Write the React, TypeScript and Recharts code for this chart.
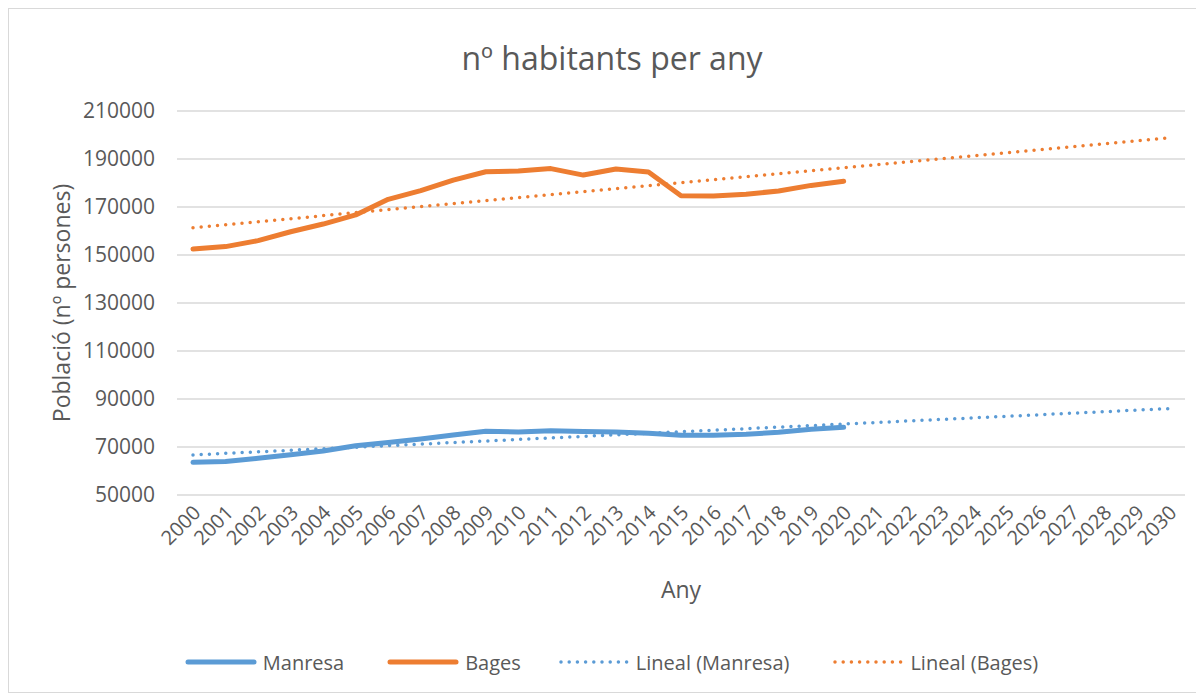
import React from 'react';
import { LineChart, Line, XAxis, YAxis, CartesianGrid, Legend } from 'recharts';

// ─── Data ────────────────────────────────────────────────────────────────────

const YEARS = [
  '2000', '2001', '2002', '2003', '2004', '2005', '2006', '2007', '2008', '2009',
  '2010', '2011', '2012', '2013', '2014', '2015', '2016', '2017', '2018', '2019',
  '2020', '2021', '2022', '2023', '2024', '2025', '2026', '2027', '2028', '2029', '2030',
];

// 2000 – 2020
const MANRESA = [
  63600, 64000, 65300, 66800, 68300, 70500, 71900, 73300, 75000, 76600,
  76300, 76800, 76500, 76200, 75700, 74900, 74900, 75300, 76100, 77400, 78200,
];
const BAGES = [
  152500, 153500, 156000, 159700, 162900, 166700, 173200, 176800, 181200, 184700,
  185000, 186000, 183300, 185800, 184600, 174700, 174600, 175300, 176700, 179000, 180700,
];

// trend lines: value at 2000 and at 2030
const TREND_MANRESA = [66700, 86000];
const TREND_BAGES = [161400, 198800];

const Y_TICKS = [50000, 70000, 90000, 110000, 130000, 150000, 170000, 190000, 210000];

// ─── Style ───────────────────────────────────────────────────────────────────

const C = {
  manresa: '#5B9BD5',
  bages:   '#ED7D31',
  grid:    '#d9d9d9',
  text:    '#595959',
};
const FONT = "'Open Sans', sans-serif";

const last = YEARS.length - 1;
const data = YEARS.map((year, i) => ({
  year,
  manresa: i < MANRESA.length ? MANRESA[i] : null,
  bages: i < BAGES.length ? BAGES[i] : null,
  trendManresa: i === 0 ? TREND_MANRESA[0] : i === last ? TREND_MANRESA[1] : null,
  trendBages: i === 0 ? TREND_BAGES[0] : i === last ? TREND_BAGES[1] : null,
}));

const LEGEND = [
  { label: 'Manresa',          color: C.manresa, dotted: false },
  { label: 'Bages',            color: C.bages,   dotted: false },
  { label: 'Lineal (Manresa)', color: C.manresa, dotted: true },
  { label: 'Lineal (Bages)',   color: C.bages,   dotted: true },
];

// ─── Pieces ──────────────────────────────────────────────────────────────────

const XTick = ({ x, y, payload }: any) => {
  const ax = x + 4;
  const ay = y + 14;
  return (
    <text x={ax} y={ay} dy="0.35em" textAnchor="end" fill={C.text} fontSize={20}
      transform={`rotate(-45, ${ax}, ${ay})`}>
      {payload.value}
    </text>
  );
};

const YTick = ({ x, y, payload }: any) => (
  <text x={x} y={y} dy="0.35em" textAnchor="end" fill={C.text} fontSize={21}>
    {payload.value}
  </text>
);

const XTitle = ({ viewBox }: any) => (
  <text x={viewBox.x + viewBox.width / 2} y={viewBox.y + 103} textAnchor="middle" fill={C.text} fontSize={23}>
    Any
  </text>
);

const YTitle = ({ viewBox }: any) => {
  const cx = viewBox.x + 53;
  const cy = viewBox.y + viewBox.height / 2;
  return (
    <text x={cx} y={cy} dy="0.35em" textAnchor="middle" fill={C.text} fontSize={23}
      transform={`rotate(-90, ${cx}, ${cy})`}>
      Població (nº persones)
    </text>
  );
};

const LegendContent = () => (
  <div style={{ display: 'flex', justifyContent: 'center', alignItems: 'center', height: 30, paddingLeft: 29, gap: 43 }}>
    {LEGEND.map((item, i) => (
      <div key={item.label} style={{ display: 'flex', alignItems: 'center', gap: 6, marginLeft: i === 2 ? -6 : 0 }}>
        <svg width={72} height={10}>
          {item.dotted ? (
            <line x1={3} y1={5} x2={69} y2={5} stroke={item.color} strokeWidth={3.5}
              strokeDasharray="0 8.2" strokeLinecap="round" />
          ) : (
            <line x1={3} y1={5} x2={69} y2={5} stroke={item.color} strokeWidth={5} strokeLinecap="round" />
          )}
        </svg>
        <span style={{ color: C.text, fontSize: 20 }}>{item.label}</span>
      </div>
    ))}
  </div>
);

// ─── Chart ───────────────────────────────────────────────────────────────────

export default function App() {
  return (
    <div style={{ position: 'relative', width: 1196, height: 685, border: `1px solid ${C.grid}`, boxSizing: 'border-box', fontFamily: FONT, background: '#fff' }}>
      <div style={{ position: 'absolute', top: 27, left: 0, width: '100%', paddingLeft: 12, boxSizing: 'border-box', textAlign: 'center', fontSize: 32, lineHeight: '44px', color: C.text }}>
        nº habitants per any
      </div>
      <LineChart width={1194} height={683} data={data} margin={{ top: 102, right: 18, left: 0, bottom: 0 }}>
        <CartesianGrid vertical={false} stroke={C.grid} strokeWidth={1.3} />
        <XAxis dataKey="year" interval={0} tick={<XTick />} tickLine={false} axisLine={false}
          tickSize={0} tickMargin={0} height={167} padding={{ left: 16, right: 16 }} label={<XTitle />} />
        <YAxis domain={[50000, 210000]} ticks={Y_TICKS} width={168} tickLine={false} axisLine={false}
          tickSize={0} tickMargin={22} tick={<YTick />} label={<YTitle />} />
        <Legend verticalAlign="bottom" height={30} wrapperStyle={{ bottom: 15 }} content={<LegendContent />} />
        <Line dataKey="manresa" name="Manresa" stroke={C.manresa} strokeWidth={5} dot={false}
          strokeLinejoin="round" strokeLinecap="round" isAnimationActive={false} />
        <Line dataKey="bages" name="Bages" stroke={C.bages} strokeWidth={5} dot={false}
          strokeLinejoin="round" strokeLinecap="round" isAnimationActive={false} />
        <Line dataKey="trendManresa" name="Lineal (Manresa)" stroke={C.manresa} strokeWidth={3.5} dot={false}
          strokeDasharray="0 8.2" strokeLinecap="round" connectNulls isAnimationActive={false} />
        <Line dataKey="trendBages" name="Lineal (Bages)" stroke={C.bages} strokeWidth={3.5} dot={false}
          strokeDasharray="0 8.2" strokeLinecap="round" connectNulls isAnimationActive={false} />
      </LineChart>
    </div>
  );
}
